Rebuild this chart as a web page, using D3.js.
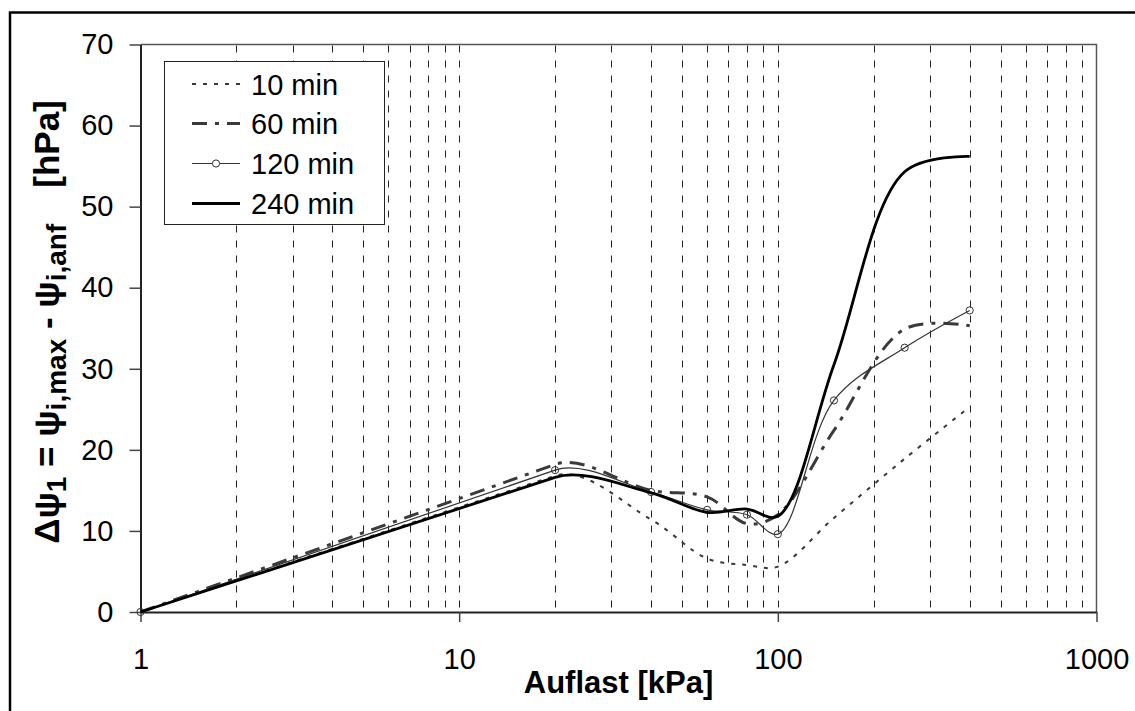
<!DOCTYPE html>
<html>
<head>
<meta charset="utf-8">
<script src="https://cdn.jsdelivr.net/npm/d3@7/dist/d3.min.js"></script>
<style>
  html, body { margin: 0; padding: 0; background: #fff; }
  svg { display: block; font-family: "Liberation Sans", Arial, sans-serif; }
</style>
</head>
<body>
<svg id="chart" width="1135" height="711"></svg>
<script>
// ---- data ----
const loads = [1, 20, 40, 60, 80, 100, 150, 250, 400];           // Auflast [kPa]
const min10  = [0, 16.8, 11.4, 6.6, 5.8, 5.6, 11.6, 18.9, 25.3];
const min60  = [0, 18.2, 15.0, 14.2, 10.9, 12.0, 22.4, 34.9, 35.3];
const min120 = [0, 17.5, 14.8, 12.6, 12.0, 9.6, 26.1, 32.6, 37.2];
const min240 = [0, 16.6, 14.7, 12.3, 12.7, 11.8, 30.5, 54.3, 56.2];
const seriesNames = ["10 min", "60 min", "120 min", "240 min"];
const xTickValues = [1, 10, 100, 1000];
const yTickValues = [0, 10, 20, 30, 40, 50, 60, 70];
const gridValues = [2,3,4,5,6,7,8,9,10,20,30,40,50,60,70,80,90,100,200,300,400,500,600,700,800,900];

const svg = d3.select("#chart");
const L = 140.5, R = 1096.5, T = 44.5, B = 612;
const x = d3.scaleLog().domain([1, 1000]).range([L, R]);
const y = d3.scaleLinear().domain([0, 70]).range([B, T]);

// outer frame (open at right and bottom as in reference)
svg.append("path").attr("d", `M10,711 L10,12.5 L1135,12.5`)
  .attr("fill", "none").attr("stroke", "#000").attr("stroke-width", 2.5);

// gridlines
svg.append("g").selectAll("line").data(gridValues).join("line")
  .attr("x1", d => Math.round(x(d)) + 0.5).attr("x2", d => Math.round(x(d)) + 0.5)
  .attr("y1", T + 1).attr("y2", B - 2)
  .attr("stroke", "#222").attr("stroke-width", 1).attr("stroke-dasharray", "7,8");

// plot top and right border
svg.append("path").attr("d", `M${L},${T} L${R},${T} L${R},${B}`)
  .attr("fill", "none").attr("stroke", "#555").attr("stroke-width", 1.5);

// axes
const xAxis = d3.axisBottom(x).tickValues(xTickValues).tickFormat(d3.format("d"))
  .tickSize(10).tickSizeOuter(0).tickPadding(26);
const gx = svg.append("g").attr("transform", `translate(0,${B})`).call(xAxis);
const yAxis = d3.axisLeft(y).tickValues(yTickValues).tickSize(11).tickSizeOuter(0).tickPadding(16);
const gy = svg.append("g").attr("transform", `translate(${L},0)`).call(yAxis);
[gx, gy].forEach(g => {
  g.select(".domain").attr("stroke", "#222").attr("stroke-width", 2);
  g.selectAll(".tick line").attr("stroke", "#444").attr("stroke-width", 1.5);
  g.selectAll(".tick text").attr("fill", "#000").attr("font-size", 29)
    .attr("font-family", "'Liberation Sans', Arial, sans-serif");
});

// axis titles
svg.append("text").attr("x", (L + R) / 2).attr("y", 693).attr("text-anchor", "middle")
  .attr("font-weight", "bold").attr("font-size", 31).text("Auflast [kPa]");

const yl = svg.append("text").attr("transform", `translate(59,322) rotate(-90)`)
  .attr("text-anchor", "middle").attr("font-weight", "bold").attr("font-size", 35);
yl.append("tspan").text("Δψ");
yl.append("tspan").attr("dy", 7).attr("font-size", 28).text("1");
yl.append("tspan").attr("dy", -7).text(" = ψ");
yl.append("tspan").attr("dy", 7).attr("font-size", 28).text("i,max");
yl.append("tspan").attr("dy", -7).text(" - ψ");
yl.append("tspan").attr("dy", 7).attr("font-size", 28).text("i,anf");
yl.append("tspan").attr("dy", -7).attr("dx", 36).text("[hPa]");

// series
const styles = [
  { data: min10,  stroke: "#3a3a3a", width: 2,   dash: "4,7",        marker: false },
  { data: min60,  stroke: "#3a3a3a", width: 3,   dash: "15,8,4,8",   marker: false },
  { data: min120, stroke: "#333",    width: 1.2, dash: null,         marker: true  },
  { data: min240, stroke: "#000",    width: 2.8, dash: null,         marker: false }
];
// smoothed line; the first (long) segment is drawn straight as in the reference,
// and the next segment leaves it tangentially
function smoothPath(pts) {
  const p = d3.path();
  let seg = 0, x0, y0, x1, y1;
  const ctx = {
    moveTo: (a, b) => { p.moveTo(a, b); x0 = a; y0 = b; },
    lineTo: (a, b) => p.lineTo(a, b),
    bezierCurveTo: (a, b, c, d, e, f) => {
      if (seg === 0) { p.lineTo(e, f); x1 = e; y1 = f; }
      else if (seg === 1) {
        const dl = Math.hypot(x1 - x0, y1 - y0), ch = Math.hypot(e - x1, f - y1) * 0.3;
        p.bezierCurveTo(x1 + (x1 - x0) / dl * ch, y1 + (y1 - y0) / dl * ch, c, d, e, f);
      } else p.bezierCurveTo(a, b, c, d, e, f);
      seg++;
    },
    closePath: () => p.closePath()
  };
  d3.line().x(d => x(d[0])).y(d => y(d[1])).curve(d3.curveCatmullRom.alpha(0.5)).context(ctx)(pts);
  return p.toString();
}
styles.forEach(s => {
  const pts = loads.map((l, i) => [l, s.data[i]]);
  svg.append("path").attr("d", smoothPath(pts)).attr("fill", "none")
    .attr("stroke", s.stroke).attr("stroke-width", s.width)
    .attr("stroke-dasharray", s.dash).attr("stroke-linejoin", "round");
  if (s.marker) {
    svg.append("g").selectAll("circle").data(pts).join("circle")
      .attr("cx", d => x(d[0])).attr("cy", d => y(d[1])).attr("r", 3.6)
      .attr("fill", "none").attr("stroke", "#333").attr("stroke-width", 1);
  }
});

// legend
const lg = svg.append("g");
lg.append("rect").attr("x", 164.5).attr("y", 61.5).attr("width", 220).attr("height", 163)
  .attr("fill", "#fff").attr("stroke", "#222").attr("stroke-width", 1);
const rowY = [84, 123.5, 163.5, 203.5];
styles.forEach((s, i) => {
  lg.append("line").attr("x1", 192).attr("x2", 240).attr("y1", rowY[i]).attr("y2", rowY[i])
    .attr("stroke", s.stroke).attr("stroke-width", s.width).attr("stroke-dasharray", s.dash);
  if (s.marker) {
    lg.append("circle").attr("cx", 216).attr("cy", rowY[i]).attr("r", 3.6)
      .attr("fill", "#fff").attr("stroke", "#333").attr("stroke-width", 1);
  }
  lg.append("text").attr("x", 251).attr("y", rowY[i] + 10.5).attr("font-size", 29)
    .text(seriesNames[i]);
});
</script>
</body>
</html>
